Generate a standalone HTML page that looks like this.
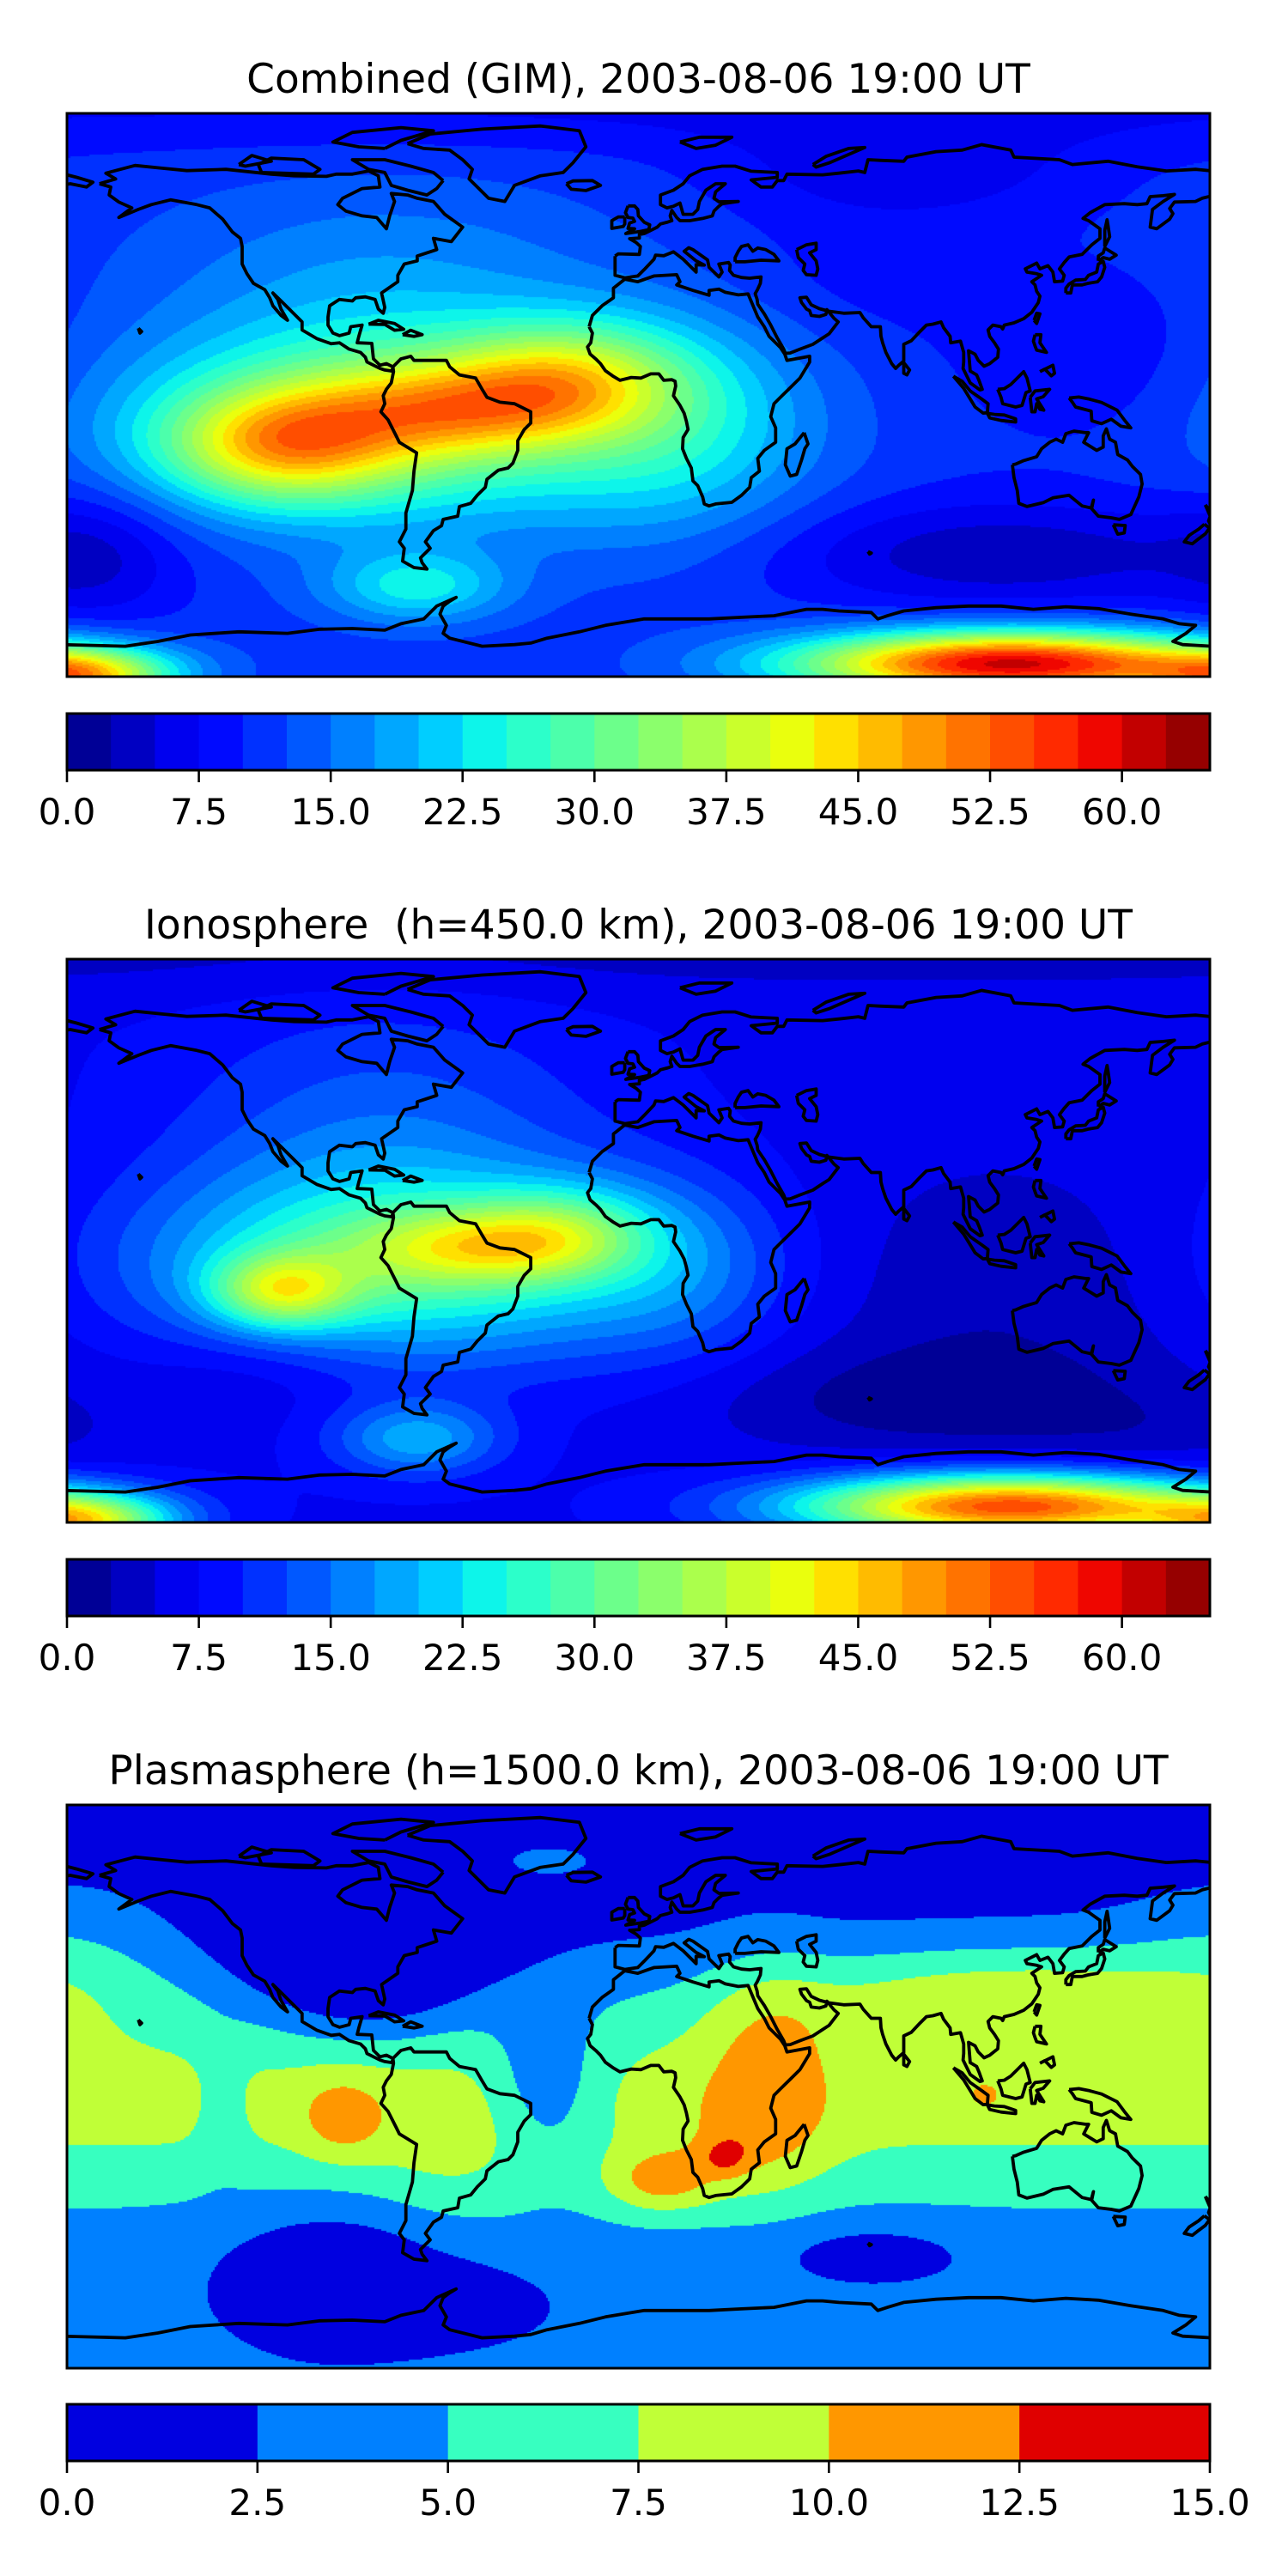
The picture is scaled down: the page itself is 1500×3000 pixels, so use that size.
<!DOCTYPE html>
<html><head><meta charset="utf-8"><title>TEC maps 2003-08-06 19:00 UT</title>
<style>
html,body{margin:0;padding:0;background:#fff;}
#wrap{position:relative;width:1500px;height:3000px;overflow:hidden;}
canvas{position:absolute;left:78px;}
svg{position:absolute;left:0;top:0;}
</style></head>
<body>
<div id="wrap">
<canvas id="c0" width="1331" height="656" style="top:132px"></canvas>
<canvas id="c1" width="1331" height="656" style="top:1117px"></canvas>
<canvas id="c2" width="1331" height="656" style="top:2102px"></canvas>
<svg id="ov" width="1500" height="3000" xmlns="http://www.w3.org/2000/svg">
<text x="743.5" y="108" text-anchor="middle" font-family="DejaVu Sans, Liberation Sans, sans-serif" font-size="47">Combined (GIM), 2003-08-06 19:00 UT</text>
<text x="743.5" y="1093" text-anchor="middle" font-family="DejaVu Sans, Liberation Sans, sans-serif" font-size="47" xml:space="preserve">Ionosphere  (h=450.0 km), 2003-08-06 19:00 UT</text>
<text x="743.5" y="2078" text-anchor="middle" font-family="DejaVu Sans, Liberation Sans, sans-serif" font-size="47">Plasmasphere (h=1500.0 km), 2003-08-06 19:00 UT</text>
</svg>
</div>
<script>
// ---------- data ----------
// panel 0: Combined GIM (levels 0..65 step 2.5)
const p0Base = 11;
const p0Lon = [-112, -60, -25, -80, 10, 113, -175, -70, 110, 80, -170, 140, -80, 0, 60];
const p0Lat = [-16, -5, 5, -8, -10, -84, -88, -60, -50, 70, -50, 10, 40, 90, 35];
const p0Amp = [22, 15, 18, 22, 10, 50, 30, 12, -8, -5, -6, -3, 5, -4, -2];
const p0Sx = [25, 30, 25, 55, 30, 45, 20, 20, 50, 40, 20, 30, 50, 500, 40];
const p0Sy = [12, 10, 12, 22, 25, 7, 6, 8, 12, 12, 15, 20, 20, 10, 15];
const p0Max = 65;
// panel 1: Ionosphere
const p1Base = 7;
const p1Lon = [-112, -50, -25, -75, 113, -175, -70, 110, 80, -80, 10, 0, -120, 160];
const p1Lat = [-16, -2, 3, -8, -83, -88, -62, -20, -50, 30, -10, 90, -40, -60];
const p1Amp = [20, 14, 12, 20, 48, 30, 12, -4, -4, 7, 6, -3, -3, -2];
const p1Sx = [15, 25, 20, 55, 45, 20, 18, 50, 50, 45, 25, 500, 25, 30];
const p1Sy = [8, 8, 10, 20, 7, 6, 8, 35, 12, 30, 20, 10, 12, 10];
const p1Max = 65;
// panel 2: Plasmasphere (levels 0..15 step 2.5)
const p2Lon = [38, 30, 5, 25, 115, 105, -93, -60, -130, -30, -95, -85, -95, -60, 70, -30, 5, -178];
const p2Lat = [5, -20, -30, -22, 28, -3, -10, -25, -8, 0, 45, 35, -58, -68, -52, 70, -73, 45];
const p2Amp = [3.5, 1.5, 5, 3.5, 5, 2, 3.5, 1.5, -1.5, -4.5, -2, -4, -3.5, -2.5, -2.5, 2, 1.5, 2];
const p2Sx = [14, 16, 12, 5, 55, 5, 9, 18, 6, 12, 30, 22, 25, 20, 22, 12, 8, 25];
const p2Sy = [25, 12, 7, 4, 12, 4, 9, 15, 15, 16, 20, 14, 16, 8, 7, 4, 3, 15];
const p2Max = 15;
const ticks0 = ["0.0","7.5","15.0","22.5","30.0","37.5","45.0","52.5","60.0"];
const tickVals0 = [0,7.5,15,22.5,30,37.5,45,52.5,60];
const ticks2 = ["0.0","2.5","5.0","7.5","10.0","12.5","15.0"];
const tickVals2 = [0,2.5,5,7.5,10,12.5,15];

// coastlines (lon,lat pairs)
const coasts = [
 [-168,65.5,-163,67,-166,68.8,-157,71.2,-148,70.3,-141,69.6,-129,70,-115,68.5,-108,68,-98,67.8,-95,68.5,-90,68.5,-85,69.5,-82,68,-81.5,64.5,-87,64,-93,61,-94.5,59,-92,57,-87,55.5,-82.5,55,-79.5,51.5,-78.5,55.5,-77,60,-78,62.5,-73,62,-70,61,-65,60,-61.5,56,-56,52,-59.5,47.5,-65,48.5,-64,45,-70,43,-70,41.5,-74,40.5,-76,37,-76,35,-81,31.5,-80,27,-80.5,25.2,-82,26.5,-83,29.5,-86,30.3,-89,30,-90,29,-94,29.5,-97,27.5,-97.5,24,-97.5,21.5,-96,19,-94,18.2,-91,19,-90.5,21,-87,21.5,-88,18,-88.5,16,-84,15.8,-83.5,11,-81.5,9,-79.5,9.5,-77.5,8.5,-77.8,7.2,-80,7.5,-81.5,8,-85.5,10,-86,11.5,-87.5,13,-91,14,-94,16,-96.5,15.7,-101,17.3,-105.5,20,-105.5,22.5,-108.5,25.5,-112,29,-114.5,31.5,-113,29.5,-112,26.5,-110,23,-112,24.5,-114.5,27.5,-115.5,30,-117,32.5,-120.5,34.5,-122.5,37.5,-124,40.5,-124,46,-124.5,48.5,-127,50.5,-130,54.5,-134,58,-138,59,-146,60.5,-152,59,-156,57.5,-162,55,-158,58,-162,59.8,-165,62,-164.5,64.5,-168,65.5],
 [-73,78,-66,81,-50,82.5,-32,83.5,-20,82,-18,77,-22,72,-25,69,-32,68,-40,65,-43,60,-48,61,-51,64,-54,67,-53,70,-56,73,-60,76,-68,76.5,-73,78],
 [-62,66.5,-65,69,-72,71,-80,73,-90,73,-85,70,-80,69,-78,65,-73,63.5,-67,62,-64,64,-62,66.5],
 [-80,76.5,-75,79,-65,82,-75,83,-90,81.5,-96,78.5,-88,77,-80,76.5],
 [-118,69,-102,68.5,-100,70,-105,73,-115,73.5,-119,71.5,-118,69],
 [-125,71.5,-121,74.3,-115,72.5,-123,71,-125,71.5],
 [-24,65.5,-22,66.4,-16,66.5,-13.5,65,-18,63.4,-22.5,63.8,-24,65.5],
 [-85,21.8,-82,23,-77,22,-74.2,20.2,-77,19.9,-80,21.7,-85,21.8],
 [-74.5,18.5,-72,19.9,-68.5,18.5,-71,18,-74.5,18.5],
 [-77.5,8.5,-75,11,-72,11.8,-71,10.5,-68,10.5,-64,10.5,-61,10.5,-60,8.5,-57,6,-52,5,-50,1.5,-48.5,-1,-44.5,-2.5,-40,-3,-35,-5.5,-35,-9,-37,-11,-39,-14.5,-39,-17.5,-40.5,-21.5,-42,-23,-45,-23.7,-48.5,-26.5,-49,-29,-51.5,-31.5,-53.5,-34,-57,-35,-57.5,-38,-62,-39,-62.5,-41,-65,-42.5,-67.5,-46,-66,-48,-69,-51,-68.5,-52.5,-67,-54.5,-71,-54,-74.5,-52,-74,-48,-75.5,-46,-73.5,-42,-73.5,-37,-71.5,-30,-71,-24,-70.2,-18.3,-75.5,-15,-76.5,-13,-79,-8,-81.2,-5.5,-80,-3,-80.5,-0.5,-79.5,1.5,-78,3.5,-77.3,7,-77.5,8.5],
 [-17,21,-16,24.5,-13,27.5,-9.5,30,-9.5,33,-6,35.8,-2,35,3,36.8,10,37.2,11,35,10,34,15,32.3,20,30.8,20,32.3,23,32.7,25,31.7,29,30.9,32,31.2,32.5,30,35,24,37,21,38.5,18,42,14.5,43.3,12.5,44,10.5,51,11.8,51,10,48,5,45,2,42,-1,40,-3,39,-7,40.5,-10.5,40.5,-15,37,-17.5,35,-20,35.5,-24,33,-26,32.5,-29,30,-31.5,27,-33.7,22,-34.2,20,-34.8,18.5,-34.2,18,-32,16.5,-28.5,15,-27,14.5,-23,13,-20,11.8,-17,12,-13.5,13.5,-11,13,-8.5,12.3,-6,11,-3.5,9,-0.5,9.7,2.5,9.5,4,8.5,4.5,6,4.3,4.5,6.3,2,6.3,-1,5,-4,5.2,-7.5,4.3,-9.5,5.5,-12,7.3,-13.5,9.5,-15,11,-16.7,12.5,-17.5,14.7,-16.5,16,-16,19,-17,21],
 [49.3,-12,50.5,-15.5,49.5,-17,48.5,-20.5,47,-25,45,-25.5,43.5,-22,44,-17,46.5,-15.5,49.3,-12],
 [-9,43,-9,39,-9,37,-6,36.2,-2,36.8,0,38.8,3,42,3.5,43.3,6,43.1,9,44.3,12,42,16,38,16,40.3,18.5,40.2,16,41.5,12.3,44.5,13.7,45.6,15,45,19.5,41.8,20,39.5,23,36.5,24,38,23,40.5,26,41,26.5,40.2,26.3,38.5,27.5,37,30,36.3,32.5,36.1,36,36.5,35.8,34.5,34.9,32.5,34.2,31.3,34.8,29.5,35,28,37,25,39,21.5,41,17.5,43,14,43.5,12.7,45,12.8,48,14,52,15.5,55,17.5,57,18.8,59.8,22.5,58.5,23.6,56.3,26.3,56,24.8,54,24.2,51.5,24.5,51,26,50,26.5,48.5,28.5,48,30,50,30.2,51.5,27.8,54,26.6,57,25.8,61.5,25.2,66.5,25.4,67.5,23.8,70,21,72.8,21,73,18,73.5,16,74.5,13,76.3,9.5,77.5,8,78.5,9,80,10.3,80,15.5,82.3,16.6,85,19.5,87,21.5,89,21.8,91.5,22.5,92.3,20.7,94.3,18,94.5,16,97.5,16.5,98.5,13,98.5,10,98.3,8,100.5,3.5,103.5,1.3,104.2,1.5,103.3,4,102.5,6,100.5,7.2,100,13.5,102,12.4,103,10.5,104.8,8.7,106.5,9.5,109,11.5,109.2,14,108,16,106.5,18,106,20,107.5,21.5,110,21,110.5,20.3,111,21.5,114,22.2,117,23.5,119.5,25.5,121.5,28.5,122,30.5,121,32,120.5,34,119.5,35,122.5,37,121,37.5,118,38,117.5,39,121,40.8,122,39,124.5,40,126,38,126.5,35,129,35.2,129.5,37,128,39,129.5,41,131,42.7,135,43.5,138,46.5,140.5,48.5,140.5,51.5,137,54,135.3,54.7,137.5,56.5,142,59,148,59.3,152,59,155,59.3,156,61.5,160,61.8,163.5,62.2,160,60,156.7,57.5,156,52,158,51.5,162,54.5,163,56.2,162,57.8,163.5,59.8,170,60,172,61,178,62.5,179.5,65,180,65.5],
 [180,69,170,70,161,69.5,152,70.8,143,72.5,132,71.5,128,73,114,73.8,113,76,104,77.7,98,76,90,75.5,81,73.8,80,72.5,72.5,72.8,69,73,68,69,66,69.5,60,68.8,55,68.3,44,68.5,43,66.5,41,66.5,39.5,64.5,36,64.5,34.5,65.6,33,66.7,41,67.5,41,69,33,69.4,28,71,24,71,18,70,14,68,12,65.5,9,63.5,5,62,5,59,7,58,9,58.5,11,59.5,12,56,15,56,16.5,57.5,17,60,19,63.5,22,65.5,25,65.5,22,63,21.5,61,23,59.9,29,60,24,59.3,23,58.5,21.5,57,21,55.5,18,54.7,14,54,11,54,10,55,8.5,57.2,8,55.5,8.5,54,7,53.5,5,53,4,52,2,51,0,50,-1.5,49.7,-1.5,48.6,-4.5,48.4,-2.5,47.2,-1.2,46,-1.5,43.5,-8,43.7,-9,43],
 [-180,65,-177,65.5,-172,64.5,-170,66,-175,67.5,-180,68.8],
 [28,41.2,31,41.2,36,41.7,41.5,41.5,40,43.5,37.5,45,35,45.5,33.5,44.5,32,46.5,30,46,29,44.5,28,42.5,28,41.2],
 [47,45,50,46.5,53,47,53,45,51,44,53,41.5,53.5,39,53,37,50,37.2,49,38.5,49.5,40.5,47.5,42.5,47,45],
 [-5,58.6,-3,58.6,-2,57.5,-1.8,55.5,0,53.5,1.7,52.7,1.4,51.2,-1,50.7,-5.7,50,-3,51.5,-5,51.6,-4.5,53.3,-3,53.8,-3.5,54.8,-5,55,-5.8,56.5,-5,58.6],
 [-6,55.2,-6,53,-6.5,52.2,-10,51.6,-10,54,-8,55.2,-6,55.2],
 [11,78.5,17,80,27,80,22,77.5,16,76.5,11,78.5],
 [52,71.5,56,74,63,76.5,68,76.8,57,72,53,70.7,52,71.5],
 [80,9.8,81.8,7.5,81,6,80,6.5,80,9.8],
 [130,31.5,131.5,31.5,132,34,135,34,136.8,34.5,139.8,35,141,36.5,142,39.5,141.5,41.3,140,40.5,139.5,38,137,37,136,35.7,133,35.5,131,34.3,130,33,130,31.5],
 [140,41.5,141.5,42.5,143.5,42,145.5,43.3,142,45.5,141.5,44,140,43,140,41.5],
 [142,46,143.5,49,143,52.5,142.7,54.3,142,51,142,46],
 [120.2,23,121,25.2,122,25,121,22,120.2,23],
 [120.5,18.5,122.3,18.5,122,16,124,13,121,13.7,120.5,15,120,16.5,120.5,18.5],
 [122,7,126,9,126.5,6.5,125.5,5.7,123.5,7.8,122,7],
 [109,1.5,110,-1,110.5,-3,114.5,-4,116.5,-3.5,117.7,0.5,119,1,118,5,117,7,115,5,113,3,111,1.7,109,1.5],
 [95.3,5.6,98,4,100.5,1,104,-1.5,106,-3,105.8,-5.8,104.5,-5.9,102,-4,100.5,-1.5,98.5,1.8,95.3,5.6],
 [105.8,-6,108,-6.3,111,-6.5,114.5,-7.7,114.5,-8.7,110,-8.2,106.5,-7.4,105.8,-6],
 [119,-1,119.5,-5.5,120.5,-5.5,121,-3,122,-4.7,123.2,-5,121,-1.5,123,-0.8,125,1.5,120.5,1,119,-1],
 [131,-1.2,134,-0.9,137,-1.5,141,-2.6,145.8,-5,148,-8,150,-10.5,147,-10,144,-7.8,141,-9.2,138,-8.3,137.8,-5.3,133,-4,132,-2.5,131,-1.2],
 [113.5,-22,114,-26,115,-30,115.5,-34,118,-35,123,-33.8,126,-32.3,131,-31.5,135,-34.8,138,-35.5,138.5,-33,137.8,-35.5,140,-38,144,-38.5,146.5,-39,150,-37.5,152.5,-32,153.5,-28,153,-25,150.5,-22.5,149,-20.5,146,-18.8,145.3,-15,143.5,-14,142.5,-10.8,141.5,-13,141.5,-16.5,139.5,-17.5,135.5,-15,137,-12,136,-12,132.5,-11.5,130,-12.3,129,-15,127,-14,125,-15,122.5,-17,121,-19.5,117,-20.7,114.5,-21.8,113.5,-22],
 [144.6,-40.7,148.3,-40.9,148,-43.2,146,-43.6,144.6,-40.7],
 [173,-34.5,175,-37,178.5,-37.7,177,-39.3,175,-41.5,174,-39.5,174.5,-38,173,-34.5],
 [172.7,-40.5,174.3,-41.7,173,-43.5,171,-45,169,-46.6,166.5,-46,168,-44,171,-42,172.7,-40.5],
 [-180,-78,-160,-78.5,-150,-77,-140,-75,-125,-74,-110,-74.5,-100,-73.2,-90,-73,-80,-73.5,-75,-71.5,-68,-70,-64,-66,-58,-63.3,-60,-64.5,-62,-66,-63,-68.5,-61,-72,-62,-74.5,-60,-76,-50,-78.5,-40,-78,-35,-77.5,-30,-76,-20,-74,-12,-72,0,-70,10,-70,20,-70,30,-69.5,40,-69,50,-67,55,-67,60,-67.5,70,-68,72,-70,75,-69,80,-67.5,90,-66.5,100,-66,110,-66,120,-67,130,-66.2,140,-66.8,150,-68.5,160,-70,165,-71.5,170,-72,167,-74.5,163,-77,166,-78,175,-78.5,180,-78],
 [-156,20.5,-155,19.5,-155.5,19,-156,20.5],
 [69,-49,70,-49.5,69.5,-49.8,69,-49]
];

// ---------- helpers ----------
const MX0 = 78, MW = 1331, MH = 656;
const LON0 = -178, PXLON = 3.777, EQY = 327, PXLAT = 3.74;
const tops = [132, 1117, 2102];
const cbTops = [831, 1816, 2800];
const CBH = 66;
function X(lon){ return MX0 + (lon - LON0) * PXLON; }
function Yrel(lat){ return EQY - lat * PXLAT; }
function seg(pts, x){
  for (let i = 1; i < pts.length; i++){
    if (x <= pts[i][0]){ const a = pts[i-1], b = pts[i]; return a[1] + (b[1]-a[1]) * (x-a[0]) / (b[0]-a[0]); }
  }
  return pts[pts.length-1][1];
}
const R = [[0,0],[0.35,0],[0.66,1],[0.89,1],[1,0.5]];
const G = [[0,0],[0.125,0],[0.375,1],[0.64,1],[0.91,0],[1,0]];
const B = [[0,0.5],[0.11,1],[0.34,1],[0.65,0],[1,0]];
function jet(x){ return [Math.round(255*seg(R,x)), Math.round(255*seg(G,x)), Math.round(255*seg(B,x))]; }

function blobs(lon, lat, Lo, La, A, Sx, Sy){
  let v = 0;
  for (let k = 0; k < Lo.length; k++){
    let dl = lon - Lo[k];
    if (dl > 180) dl -= 360; if (dl < -180) dl += 360;
    const a = dl / Sx[k], b = (lat - La[k]) / Sy[k];
    v += A[k] * Math.exp(-0.5 * (a*a + b*b));
  }
  return v;
}
const fields = [
  (lon, lat) => p0Base + blobs(lon, lat, p0Lon, p0Lat, p0Amp, p0Sx, p0Sy),
  (lon, lat) => p1Base + blobs(lon, lat, p1Lon, p1Lat, p1Amp, p1Sx, p1Sy),
  (lon, lat) => {
    const floor = 2.2 - 1.0 * Math.tanh(lat / 20);
    const base = floor + 6 * Math.exp(-0.5 * (lat/25) * (lat/25));
    return base + blobs(lon, lat, p2Lon, p2Lat, p2Amp, p2Sx, p2Sy);
  }
];
const maxes = [p0Max, p1Max, p2Max];

function drawField(pi){
  const cv = document.getElementById('c' + pi);
  const ctx = cv.getContext('2d');
  const img = ctx.createImageData(MW, MH);
  const nb = maxes[pi] / 2.5;
  const pal = [];
  for (let i = 0; i < nb; i++) pal.push(jet((i + 0.5) / nb));
  const f = fields[pi];
  const step = 2;
  for (let y = 0; y < MH; y += step){
    const lat = (EQY - (y + 1)) / PXLAT;
    for (let x = 0; x < MW; x += step){
      const lon = LON0 + (x + 1) / PXLON;
      let bin = Math.floor(f(lon, lat) / 2.5);
      if (bin < 0) bin = 0; if (bin >= nb) bin = nb - 1;
      const c = pal[bin];
      for (let dy = 0; dy < step && y+dy < MH; dy++)
        for (let dx = 0; dx < step && x+dx < MW; dx++){
          const o = ((y+dy) * MW + x + dx) * 4;
          img.data[o] = c[0]; img.data[o+1] = c[1]; img.data[o+2] = c[2]; img.data[o+3] = 255;
        }
    }
  }
  ctx.putImageData(img, 0, 0);
  return pal;
}

const NS = 'http://www.w3.org/2000/svg';
const ov = document.getElementById('ov');
function mk(tag, attrs){ const e = document.createElementNS(NS, tag); for (const k in attrs) e.setAttribute(k, attrs[k]); return e; }

for (let pi = 0; pi < 3; pi++){
  const pal = drawField(pi);
  const top = tops[pi];
  const clipId = 'clip' + pi;
  const cp = mk('clipPath', {id: clipId});
  cp.appendChild(mk('rect', {x: MX0, y: top, width: MW, height: MH}));
  ov.appendChild(cp);
  const g = mk('g', {'clip-path': 'url(#' + clipId + ')'});
  
  
  for (const c of coasts){
    let d = '';
    for (let i = 0; i < c.length; i += 2){
      d += (i ? 'L' : 'M') + X(c[i]).toFixed(1) + ' ' + (top + Yrel(c[i+1])).toFixed(1);
    }
    const p = mk('path', {d: d, fill: 'none', stroke: '#000', 'stroke-width': 3.8, 'stroke-linejoin': 'round'});
    
    
    g.appendChild(p);
  }
  ov.appendChild(g);
  const fr = mk('rect', {x: MX0, y: top, width: MW, height: MH, fill: 'none', stroke: '#000', 'stroke-width': 3});
  
  
  ov.appendChild(fr);

  const cbt = cbTops[pi];
  const nb = pal.length;
  const cg = mk('g', {});
  
  
  for (let i = 0; i < nb; i++){
    const c = pal[i];
    const r = mk('rect', {x: MX0 + i * MW / nb, y: cbt, width: MW / nb + 0.6, height: CBH, fill: 'rgb(' + c.join(',') + ')'});
    
    
    cg.appendChild(r);
  }
  const cf = mk('rect', {x: MX0, y: cbt, width: MW, height: CBH, fill: 'none', stroke: '#000', 'stroke-width': 3});
  
  
  cg.appendChild(cf);
  const tv = pi < 2 ? tickVals0 : tickVals2;
  const tl = pi < 2 ? ticks0 : ticks2;
  for (let i = 0; i < tv.length; i++){
    const tx = MX0 + tv[i] / maxes[pi] * MW;
    const tk = mk('line', {x1: tx, x2: tx, y1: cbt + CBH, y2: cbt + CBH + 14, stroke: '#000', 'stroke-width': 2.6});
    
    
    cg.appendChild(tk);
    const t = mk('text', {x: tx, y: cbt + CBH + 63, 'text-anchor': 'middle', 'font-family': 'DejaVu Sans, Liberation Sans, sans-serif', 'font-size': 42});
    t.textContent = tl[i];
    
    
    cg.appendChild(t);
  }
  ov.appendChild(cg);
}
</script>
</body></html>
